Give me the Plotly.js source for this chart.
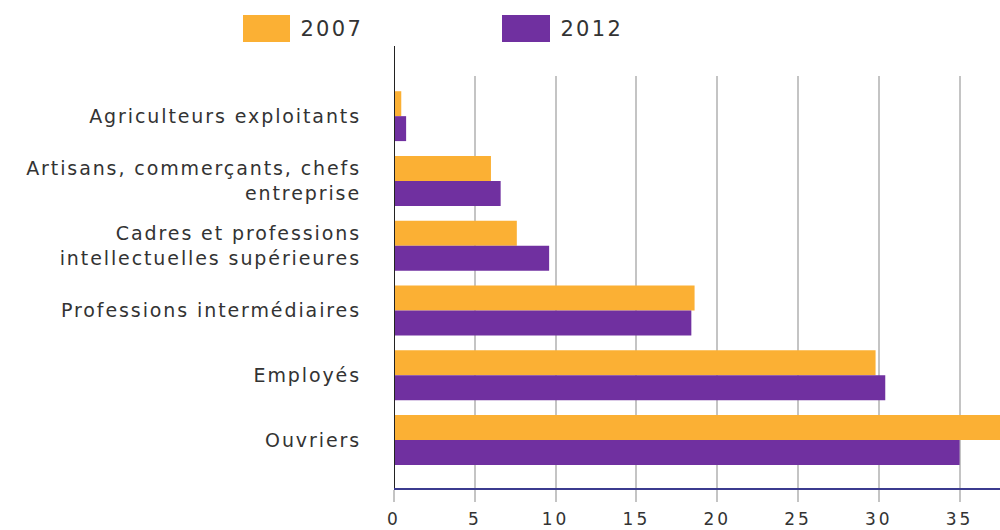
<!DOCTYPE html>
<html>
<head>
<meta charset="utf-8">
<script src="https://cdn.plot.ly/plotly-3.0.1.min.js"></script>
<style>
html,body{margin:0;padding:0;background:#fff;}
#chart{width:1000px;height:530px;}
#chart .ytick text{letter-spacing:1.9px;}
#chart .xtick text{letter-spacing:3px;}
#chart .annotation-text{letter-spacing:2.3px;}
</style>
</head>
<body>
<div id="chart"></div>
<script>
const categories = [
  "Agriculteurs exploitants",
  "Artisans, commerçants, chefs<br>entreprise",
  "Cadres et professions<br>intellectuelles supérieures",
  "Professions intermédiaires",
  "Employés",
  "Ouvriers"
];
const seriesNames = ["2007", "2012"];
const values2007 = [0.45, 6.0, 7.6, 18.6, 29.8, 37.8];
const values2012 = [0.75, 6.6, 9.6, 18.4, 30.4, 35.0];
const xTickVals = [0, 5, 10, 15, 20, 25, 30, 35];

const colors = ["#FBB034", "#7030A0"];
const W = 1000, H = 530;
const L = 394, R = 1000, T = 76, B = 488;
const px = v => (v - L) / (R - L);
const py = v => (B - v) / (B - T);

const traces = [values2007, values2012].map((vals, i) => ({
  type: "bar",
  orientation: "h",
  name: seriesNames[i],
  y: categories,
  x: vals,
  marker: { color: colors[i], line: { width: 0 } },
  hoverinfo: "x+y+name"
}));

const fam = "DejaVu Sans, Verdana, sans-serif";
const font = { family: fam, size: 19, color: "#333333" };

const legendShapes = [];
const legendAnn = [];
const legendPos = [[243, 290, 303], [502, 550, 563]];
seriesNames.forEach((n, i) => {
  const p = legendPos[i];
  legendShapes.push({
    type: "rect", xref: "paper", yref: "paper",
    x0: px(p[0]), x1: px(p[1]), y0: py(42), y1: py(15),
    fillcolor: colors[i], line: { width: 0 }
  });
  legendAnn.push({
    xref: "paper", yref: "paper", x: px(p[2]), y: py(29),
    xanchor: "left", yanchor: "middle", showarrow: false,
    text: n, font: { family: fam, size: 21, color: "#333333" }
  });
});

const layout = {
  width: W, height: H,
  margin: { l: L, r: W - R, t: T, b: H - B, pad: 0 },
  paper_bgcolor: "#ffffff",
  plot_bgcolor: "#ffffff",
  showlegend: false,
  barmode: "group",
  bargap: 0.23,
  bargroupgap: 0,
  font: font,
  xaxis: {
    range: [0, 37.5],
    tickvals: xTickVals,
    ticktext: xTickVals.map(String),
    showgrid: true,
    gridcolor: "#c4c4c4",
    gridwidth: 2,
    zeroline: false,
    showline: true,
    linecolor: "#3b3b8f",
    linewidth: 2,
    ticks: "outside",
    ticklen: 12,
    tickwidth: 2,
    tickcolor: "#c4c4c4",
    ticklabelstandoff: 3,
    tickfont: { family: fam, size: 17, color: "#333333" },
    fixedrange: true
  },
  yaxis: {
    type: "category",
    range: [5.74, -0.62],
    showgrid: false,
    zeroline: false,
    showline: false,
    ticks: "",
    ticklabelstandoff: 32,
    tickfont: font,
    fixedrange: true
  },
  shapes: [
    ...legendShapes,
    {
      type: "line", xref: "x", yref: "paper",
      x0: 0, x1: 0, y0: 0, y1: py(46),
      line: { color: "#222222", width: 2 }
    }
  ],
  annotations: legendAnn
};

Plotly.newPlot("chart", traces, layout, { displayModeBar: false, staticPlot: true });
</script>
</body>
</html>
